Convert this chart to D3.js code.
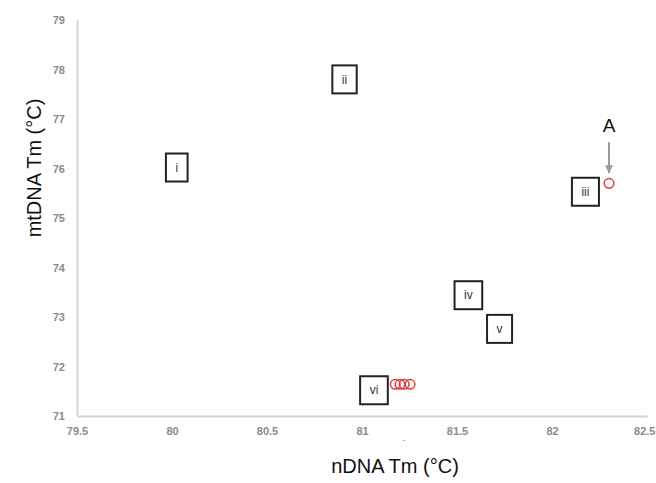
<!DOCTYPE html>
<html>
<head>
<meta charset="utf-8">
<script src="https://cdn.jsdelivr.net/npm/d3@7"></script>
<style>
  body { margin: 0; background: #fff; }
  svg { font-family: "Liberation Sans", Arial, sans-serif; }
</style>
</head>
<body>
<svg id="chart"></svg>
<script>
// measured points (nDNA Tm, mtDNA Tm)
const pointX = [82.3, 81.175, 81.2, 81.222, 81.253];
const pointY = [75.7, 71.64, 71.64, 71.64, 71.64];

// boxed group labels placed in data space
const boxLabels = ['i', 'ii', 'iii', 'iv', 'v', 'vi'];
const boxX = [80.025, 80.908, 82.176, 81.56, 81.724, 81.063];
const boxY = [76.02, 77.8, 75.53, 73.44, 72.76, 71.52];

const xTicks = [79.5, 80, 80.5, 81, 81.5, 82, 82.5];
const yTicks = [71, 72, 73, 74, 75, 76, 77, 78, 79];

const CHART_WIDTH = 656;
const CHART_HEIGHT = 483;
const MARGIN = { left: 77, right: 9, top: 20, bottom: 67 };

let svg = d3.select('#chart')
    .attr('width', CHART_WIDTH)
    .attr('height', CHART_HEIGHT);

let xScale = d3.scaleLinear()
    .domain([79.5, 82.5])
    .range([MARGIN.left, CHART_WIDTH - MARGIN.right]);
let yScale = d3.scaleLinear()
    .domain([71, 79])
    .range([CHART_HEIGHT - MARGIN.bottom, MARGIN.top]);

// axes
let xAxis = svg.append('g')
    .attr('transform', `translate(0, ${CHART_HEIGHT - MARGIN.bottom})`)
    .call(d3.axisBottom(xScale).tickValues(xTicks).tickSize(0).tickPadding(11).tickFormat(d3.format('')));
let yAxis = svg.append('g')
    .attr('transform', `translate(${MARGIN.left}, 0)`)
    .call(d3.axisLeft(yScale).tickValues(yTicks).tickSize(0).tickPadding(12).tickFormat(d3.format('')));

[xAxis, yAxis].forEach(ax => {
    ax.select('.domain').attr('stroke', '#d4d4d4').attr('stroke-width', 2);
    ax.selectAll('text')
        .attr('fill', '#8a8a8a')
        .attr('font-size', '11px')
        .attr('font-weight', 'bold')
        .attr('font-family', '"Liberation Sans", Arial, sans-serif');
});
// last x label sits flush with the right edge
xAxis.selectAll('.tick text')
    .filter(d => d === 82.5)
    .attr('text-anchor', 'end')
    .attr('dx', '8px');

// small stray mark under the axis
svg.append('text')
    .text('-')
    .attr('x', xScale(81.22))
    .attr('y', CHART_HEIGHT - MARGIN.bottom + 27)
    .attr('text-anchor', 'middle')
    .attr('font-size', '9px')
    .attr('fill', '#999');

// axis titles
svg.append('text')
    .text('nDNA Tm (°C)')
    .attr('x', 395)
    .attr('y', 473)
    .attr('text-anchor', 'middle')
    .attr('font-size', '20px')
    .attr('fill', '#111');
svg.append('text')
    .text('mtDNA Tm (°C)')
    .attr('transform', 'translate(41, 168) rotate(-90)')
    .attr('text-anchor', 'middle')
    .attr('font-size', '20px')
    .attr('fill', '#111');

// label boxes
let boxes = svg.append('g').selectAll('g')
    .data(boxLabels)
    .join('g')
    .attr('transform', (d, i) => `translate(${xScale(boxX[i])}, ${yScale(boxY[i])})`);
boxes.append('text')
    .text(d => d)
    .attr('text-anchor', 'middle')
    .attr('dy', '0.35em')
    .attr('font-size', '12px')
    .attr('fill', '#333');
boxes.each(function () {
    let g = d3.select(this);
    let w = g.select('text').node().getComputedTextLength() + 19;
    g.insert('rect', 'text')
        .attr('x', -w / 2)
        .attr('y', -14)
        .attr('width', w)
        .attr('height', 28)
        .attr('fill', '#fff')
        .attr('stroke', '#222')
        .attr('stroke-width', 2);
});

// points
svg.append('g').selectAll('circle')
    .data(pointX)
    .join('circle')
    .attr('cx', d => xScale(d))
    .attr('cy', (d, i) => yScale(pointY[i]))
    .attr('r', 4.8)
    .attr('fill', 'none')
    .attr('stroke', '#e0393e')
    .attr('stroke-width', 1.5);

// arrow + "A" annotation on the first point
svg.append('defs').append('marker')
    .attr('id', 'head')
    .attr('viewBox', '0 0 10 10')
    .attr('refX', 10).attr('refY', 5)
    .attr('markerWidth', 4).attr('markerHeight', 4)
    .attr('orient', 'auto')
    .append('path')
    .attr('d', 'M0,0L10,5L0,10z')
    .attr('fill', '#9a9a9a');

let ax = xScale(pointX[0]), ay = yScale(pointY[0]);
svg.append('line')
    .attr('x1', ax).attr('x2', ax)
    .attr('y1', ay - 41).attr('y2', ay - 10)
    .attr('stroke', '#9a9a9a')
    .attr('stroke-width', 2)
    .attr('marker-end', 'url(#head)');
svg.append('text')
    .text('A')
    .attr('x', ax)
    .attr('y', ay - 51)
    .attr('text-anchor', 'middle')
    .attr('font-size', '19px')
    .attr('fill', '#111');
</script>
</body>
</html>
